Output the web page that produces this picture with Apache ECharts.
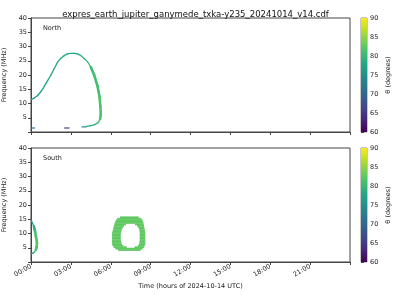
<!DOCTYPE html>
<html>
<head>
<meta charset="utf-8">
<script src="https://cdn.jsdelivr.net/npm/echarts@6/dist/echarts.min.js"></script>
<style>html,body{margin:0;padding:0;background:#fff}#c{width:400px;height:300px}</style>
</head>
<body>
<div id="c"></div>
<script>
// ---- data ----
var titleText = 'expres_earth_jupiter_ganymede_txka-y235_20241014_v14.cdf';
var xTickHours = [0, 3, 6, 9, 12, 15, 18, 21];
var thetaTicks = [60, 65, 70, 75, 80, 85, 90];

// North hemisphere curve: time (h), frequency (MHz), theta (deg)
var northT = [0, 0.25, 0.5, 0.75, 1.0, 1.25, 1.5, 1.75, 2.0, 2.25, 2.5, 2.75, 3.0, 3.25, 3.5, 3.75, 4.0, 4.25, 4.5, 4.75, 5.0, 5.15, 5.22, 5.25, 5.2, 5.05, 4.8, 4.5, 4.2];
var northF = [11.3, 11.9, 12.8, 14.2, 16.0, 18.0, 20.0, 22.3, 24.5, 25.9, 26.8, 27.4, 27.6, 27.6, 27.4, 26.8, 25.8, 24.7, 22.8, 20.0, 16.2, 12.5, 9.0, 6.0, 4.5, 3.3, 2.6, 2.2, 2.0];
var northTheta = [76.5, 77, 77, 77.5, 77.5, 78, 78, 78, 78, 78, 78, 78, 78, 78, 78.5, 79, 79.5, 80, 80.5, 81, 81, 81.5, 81.5, 81.5, 81, 80, 79, 78, 77];

// North low-frequency fragments: start time, end time, frequency, theta
var fragStart = [0, 2.5, 3.8];
var fragEnd = [0.3, 2.9, 4.2];
var fragF = [1.4, 1.4, 1.8];
var fragTheta = [72, 66, 75];

// South hemisphere arc near 00:00
var southT = [0, 0.1, 0.22, 0.3, 0.37, 0.43, 0.45, 0.42, 0.37, 0.25, 0.15, 0];
var southF = [14.8, 13.8, 12.5, 10.8, 9.0, 7.5, 6.6, 5.3, 4.3, 3.5, 3.1, 2.8];
var southTheta = [75, 77, 79, 81, 81.5, 82, 82, 81.5, 81, 79, 77, 75];

// South ring emission (rows of 0.5 MHz): centre freq, outer start/end, hole start/end (h)
var ringF =     [4.25, 4.75, 5.25, 5.75, 6.25, 6.75, 7.25, 7.75, 8.25, 8.75, 9.25, 9.75, 10.25, 10.75, 11.25, 11.75, 12.25, 12.75, 13.25, 13.75, 14.25, 14.75, 15.25, 15.75];
var ringStart = [6.55, 6.35, 6.22, 6.15, 6.1, 6.1, 6.1, 6.1, 6.1, 6.1, 6.1, 6.1, 6.1, 6.13, 6.16, 6.19, 6.21, 6.24, 6.27, 6.3, 6.34, 6.4, 6.5, 6.7];
var ringEnd =   [8.25, 8.4, 8.5, 8.55, 8.6, 8.6, 8.6, 8.6, 8.6, 8.6, 8.6, 8.6, 8.6, 8.58, 8.56, 8.54, 8.52, 8.5, 8.48, 8.46, 8.43, 8.38, 8.3, 8.1];
var holeStart = [null, null, 7.2, 6.95, 6.85, 6.8, 6.77, 6.75, 6.75, 6.75, 6.75, 6.75, 6.77, 6.79, 6.82, 6.86, 6.92, 7.0, 7.15, null, null, null, null, null];
var holeEnd =   [null, null, 7.8, 8.05, 8.12, 8.15, 8.17, 8.18, 8.18, 8.18, 8.18, 8.18, 8.18, 8.17, 8.15, 8.12, 8.06, 7.98, 7.82, null, null, null, null, null];
var ringTheta = [82.5, 82.5, 82.5, 82.5, 82.5, 82.5, 82.5, 82.5, 82.5, 82.5, 82.5, 82.5, 82.5, 82.5, 82.5, 82.5, 82.5, 82.5, 82.5, 82.5, 82.5, 82.5, 82.5, 82.5];

// ---- build ----
var viridis = ['#440154', '#482475', '#414487', '#355f8d', '#2a788e', '#21918c', '#22a884', '#44bf70', '#7ad151', '#bddf26', '#fde725'];
function zip3(a, b, c) { return a.map(function (v, i) { return [v, b[i], c[i]]; }); }
var northData = zip3(northT, northF, northTheta);
var southData = zip3(southT, southF, southTheta);
var fragData = fragStart.map(function (v, i) { return [v, fragF[i], fragTheta[i], fragEnd[i]]; });
var ringData = ringF.map(function (f, i) { return [ringStart[i], f, ringTheta[i], ringEnd[i]]; });
var ROW_HALF = 0.25;

var FONT = 'DejaVu Sans';

function polyRender(arr) {
  return function (params, api) {
    var i = params.dataIndex;
    if (i >= arr.length - 1) return null;
    var p0 = api.coord([arr[i][0], arr[i][1]]);
    var p1 = api.coord([arr[i + 1][0], arr[i + 1][1]]);
    var steep = Math.abs(p1[1] - p0[1]) > 2 * Math.abs(p1[0] - p0[0]) + 1;
    return {
      type: 'line',
      shape: { x1: p0[0], y1: p0[1], x2: p1[0], y2: p1[1] },
      style: { stroke: api.visual('color'), lineWidth: steep ? 2.6 : 1.3, lineCap: 'round' }
    };
  };
}
function fragRender(params, api) {
  var p0 = api.coord([api.value(0), api.value(1)]);
  var p1 = api.coord([api.value(3), api.value(1)]);
  return { type: 'line', shape: { x1: p0[0], y1: p0[1], x2: p1[0], y2: p1[1] }, style: { stroke: api.visual('color'), lineWidth: 1.2 } };
}
function ringRender(params, api) {
  var i = params.dataIndex;
  var f = ringF[i];
  var segs = [];
  if (holeStart[i] == null) segs.push([ringStart[i], ringEnd[i]]);
  else { segs.push([ringStart[i], holeStart[i]]); segs.push([holeEnd[i], ringEnd[i]]); }
  var col = api.visual('color');
  return {
    type: 'group',
    children: segs.map(function (s) {
      var a = api.coord([s[0], f + ROW_HALF]);
      var b = api.coord([s[1], f - ROW_HALF]);
      return { type: 'rect', shape: { x: a[0], y: a[1], width: b[0] - a[0], height: b[1] - a[1] + 0.3 }, style: { fill: col } };
    })
  };
}
function cbRender(params, api) {
  var a = api.coord([0, 90]);
  var b = api.coord([1, 60]);
  var stops = viridis.map(function (c, k) { return { offset: 1 - k / (viridis.length - 1), color: c }; }).reverse();
  return {
    type: 'rect',
    shape: { x: a[0], y: a[1], width: b[0] - a[0], height: b[1] - a[1] },
    style: { fill: new echarts.graphic.LinearGradient(0, 0, 0, 1, stops) }
  };
}

function xAxis(gi, showLabels) {
  return {
    type: 'value', gridIndex: gi, min: 0, max: 24, interval: 3,
    axisLine: { show: true, lineStyle: { color: '#444', width: 1 } },
    axisTick: { show: true, length: 3, lineStyle: { color: '#444' } },
    splitLine: { show: false },
    axisLabel: {
      show: showLabels, rotate: 30, margin: 4, fontFamily: FONT, fontSize: 6.5, color: '#222',
      formatter: function (v) { return xTickHours.indexOf(v) >= 0 ? ((v < 10 ? '0' : '') + v + ':00') : ''; }
    },
    name: showLabels ? 'Time (hours of 2024-10-14 UTC)' : '',
    nameLocation: 'middle', nameGap: 21,
    nameTextStyle: { fontFamily: FONT, fontSize: 6.5, color: '#222' }
  };
}
function yAxis(gi) {
  return {
    type: 'value', gridIndex: gi, min: 0, max: 40, interval: 5,
    axisLine: { show: true, lineStyle: { color: '#444', width: 1 } },
    axisTick: { show: true, length: 3, lineStyle: { color: '#444' } },
    splitLine: { show: false },
    axisLabel: { margin: 4, fontFamily: FONT, fontSize: 6.5, color: '#222', formatter: function (v) { return v === 0 ? '' : String(v); } },
    name: 'Frequency (MHz)', nameLocation: 'middle', nameGap: 16, nameRotate: 90,
    nameTextStyle: { fontFamily: FONT, fontSize: 6.5, color: '#222' }
  };
}
function cbY(gi) {
  return {
    type: 'value', gridIndex: gi, min: 60, max: 90, interval: 5, position: 'right',
    axisLine: { show: false }, splitLine: { show: false },
    axisTick: { show: true, length: 3, lineStyle: { color: '#444' } },
    axisLabel: { margin: 3, fontFamily: FONT, fontSize: 6.5, color: '#222' },
    name: 'θ (degrees)', nameLocation: 'middle', nameGap: 18, nameRotate: 90,
    nameTextStyle: { fontFamily: FONT, fontSize: 6.5, color: '#222' }
  };
}
function cbX(gi) {
  return { type: 'value', gridIndex: gi, min: 0, max: 1, show: false };
}
function grid(l, t, w, h, bw) {
  return { left: l, top: t, width: w, height: h, show: true, borderColor: '#444', borderWidth: bw, backgroundColor: 'transparent', containLabel: false, outerBoundsMode: 'none' };
}

var chart = echarts.init(document.getElementById('c'), null, { renderer: 'canvas' });
chart.setOption({
  animation: false,
  backgroundColor: '#fff',
  title: { text: titleText, left: 190.5, top: 5, textAlign: 'center', textStyle: { fontFamily: FONT, fontSize: 8.5, fontWeight: 'normal', color: '#111' } },
  grid: [grid(31, 18, 319, 114, 1), grid(31, 148, 319, 114, 1), grid(361, 18, 6, 114, 0.6), grid(361, 148, 6, 114, 0.6)],
  xAxis: [xAxis(0, false), xAxis(1, true), cbX(2), cbX(3)],
  yAxis: [yAxis(0), yAxis(1), cbY(2), cbY(3)],
  visualMap: [
    { type: 'continuous', show: false, min: 60, max: 90, dimension: 2, seriesIndex: [0, 1, 2, 3], inRange: { color: viridis } }
  ],
  graphic: [
    { type: 'text', left: 43, top: 25, style: { text: 'North', font: '6.5px "DejaVu Sans"', fill: '#222' } },
    { type: 'text', left: 43, top: 155, style: { text: 'South', font: '6.5px "DejaVu Sans"', fill: '#222' } }
  ],
  series: [
    { type: 'custom', xAxisIndex: 0, yAxisIndex: 0, data: northData, renderItem: polyRender(northData), clip: true },
    { type: 'custom', xAxisIndex: 0, yAxisIndex: 0, data: fragData, renderItem: fragRender, clip: true },
    { type: 'custom', xAxisIndex: 1, yAxisIndex: 1, data: southData, renderItem: polyRender(southData), clip: true },
    { type: 'custom', xAxisIndex: 1, yAxisIndex: 1, data: ringData, renderItem: ringRender, clip: true },
    { type: 'custom', xAxisIndex: 2, yAxisIndex: 2, data: [[0, 60]], renderItem: cbRender, silent: true, z: 1 },
    { type: 'custom', xAxisIndex: 3, yAxisIndex: 3, data: [[0, 60]], renderItem: cbRender, silent: true, z: 1 }
  ]
});
</script>
</body>
</html>
